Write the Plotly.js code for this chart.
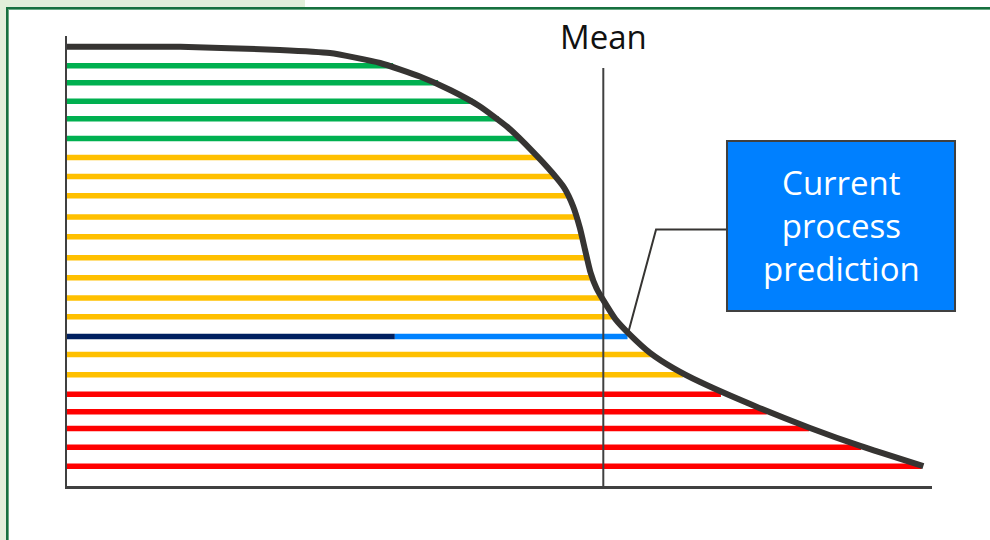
<!DOCTYPE html>
<html>
<head>
<meta charset="utf-8">
<script src="https://cdn.plot.ly/plotly-3.0.1.min.js"></script>
<style>
  body { margin: 0; }
  #frame { position: relative; width: 990px; height: 540px; background: #fff; overflow: hidden; }
  .tab { position: absolute; background: #e2efda; }
  #edge { position: absolute; left: 6px; top: 7px; right: -4px; bottom: -4px;
          border-top: 2px solid #17703f; border-left: 2px solid #17703f;
          box-shadow: inset 1px 1px 0 #6aaa84; }
  #chart { position: absolute; left: 0; top: 0; width: 990px; height: 540px; }
</style>
</head>
<body>
<div id="frame">
  <div class="tab" style="left:0;top:0;width:305px;height:8px"></div>
  <div class="tab" style="left:0;top:0;width:7px;height:540px"></div>
  <div id="edge"></div>
  <div id="chart"></div>
</div>
<script>
// horizontal levels, top to bottom (x 0..100, y 0..100)
const levelY = [93.4, 89.6, 85.5, 81.6, 77.2, 73.0, 68.8, 64.5, 59.8, 55.4, 50.7,
                46.3, 41.8, 37.6, 33.2, 29.2, 24.7, 20.4, 16.5, 12.8, 8.6, 4.4];
const levelEnd = [37.7, 42.9, 46.9, 49.9, 52.5, 54.7, 56.5, 58.0, 59.0, 59.6, 60.1,
                  60.7, 61.8, 63.1, 64.8, 67.5, 71.2, 75.6, 80.9, 85.8, 91.8, 98.8];
const levelBand = ["good", "good", "good", "good", "good",
                   "fair", "fair", "fair", "fair", "fair", "fair", "fair", "fair", "fair",
                   "current", "fair", "fair",
                   "poor", "poor", "poor", "poor", "poor"];
const currentSplit = 37.9;

// the curve
const curveX = [0, 13.1, 24.6, 30.4, 36.2, 40.8, 44.3, 47.7, 50.9, 53.9, 56.1, 57.5, 58.5,
                59.3, 59.9, 60.5, 61.2, 62.0, 63.4, 65.1, 67.4, 70.1, 73.2, 80.1, 85.9, 91.7, 99.0];
const curveY = [97.6, 97.6, 96.9, 96.2, 94.0, 91.0, 88.0, 84.4, 79.8, 74.2, 69.6, 66.2, 62.2,
                57.3, 52.4, 47.6, 44.0, 41.3, 37.1, 33.6, 29.6, 26.2, 23.1, 17.3, 12.9, 8.9, 4.4];

const meanX = 62.0;
const meanTop = 92.9;

// callout pointer
const calloutX = [76.3, 68.1, 64.9];
const calloutY = [57.0, 57.0, 34.2];

const bandColor = { good: "#00b050", fair: "#ffc000", poor: "#ff0000" };
const lineW = 5.5;

const traces = [];
Object.keys(bandColor).forEach(band => {
  const xs = [], ys = [];
  levelY.forEach((y, i) => {
    if (levelBand[i] !== band) return;
    xs.push(0, levelEnd[i], null);
    ys.push(y, y, null);
  });
  traces.push({ x: xs, y: ys, mode: "lines", line: { color: bandColor[band], width: lineW } });
});

const ci = levelBand.indexOf("current");
traces.push({ x: [0, currentSplit], y: [levelY[ci], levelY[ci]], mode: "lines",
              line: { color: "#002060", width: lineW } });
traces.push({ x: [currentSplit, levelEnd[ci]], y: [levelY[ci], levelY[ci]], mode: "lines",
              line: { color: "#0082ff", width: lineW } });

traces.push({ x: [meanX, meanX], y: [0, meanTop], mode: "lines",
              line: { color: "#404040", width: 2 } });

traces.push({ x: curveX, y: curveY, mode: "lines",
              line: { color: "#363432", width: 6, shape: "spline", smoothing: 0.5 } });

traces.push({ x: calloutX, y: calloutY, mode: "lines",
              line: { color: "#363432", width: 2 } });

const layout = {
  width: 990,
  height: 540,
  margin: { l: 67, r: 58, t: 36, b: 54 },
  paper_bgcolor: "rgba(0,0,0,0)",
  plot_bgcolor: "rgba(0,0,0,0)",
  showlegend: false,
  font: { family: "Open Sans, sans-serif", color: "#111" },
  xaxis: { range: [0, 100], showgrid: false, zeroline: false, showticklabels: false,
           ticks: "", showline: true, linecolor: "#404040", linewidth: 2.5, fixedrange: true },
  yaxis: { range: [0, 100], showgrid: false, zeroline: false, showticklabels: false,
           ticks: "", showline: true, linecolor: "#404040", linewidth: 2.5, fixedrange: true },
  shapes: [
    { type: "rect", xref: "paper", yref: "paper", x0: 0.7630, x1: 1.0266, y0: 0.3889, y1: 0.7667,
      fillcolor: "#0080ff", line: { color: "#404040", width: 2 }, layer: "above" }
  ],
  annotations: [
    { text: "Mean", xref: "x", x: meanX, yref: "paper", y: 1.0, xanchor: "center", yanchor: "middle",
      showarrow: false, font: { size: 33, color: "#111" } },
    { text: "Current<br>process<br>prediction", xref: "paper", x: 0.8948, yref: "paper", y: 0.5778,
      xanchor: "center", yanchor: "middle", showarrow: false, font: { size: 33, color: "#fff" } }
  ]
};

Plotly.newPlot("chart", traces, layout, { displayModeBar: false, staticPlot: true });
</script>
</body>
</html>
